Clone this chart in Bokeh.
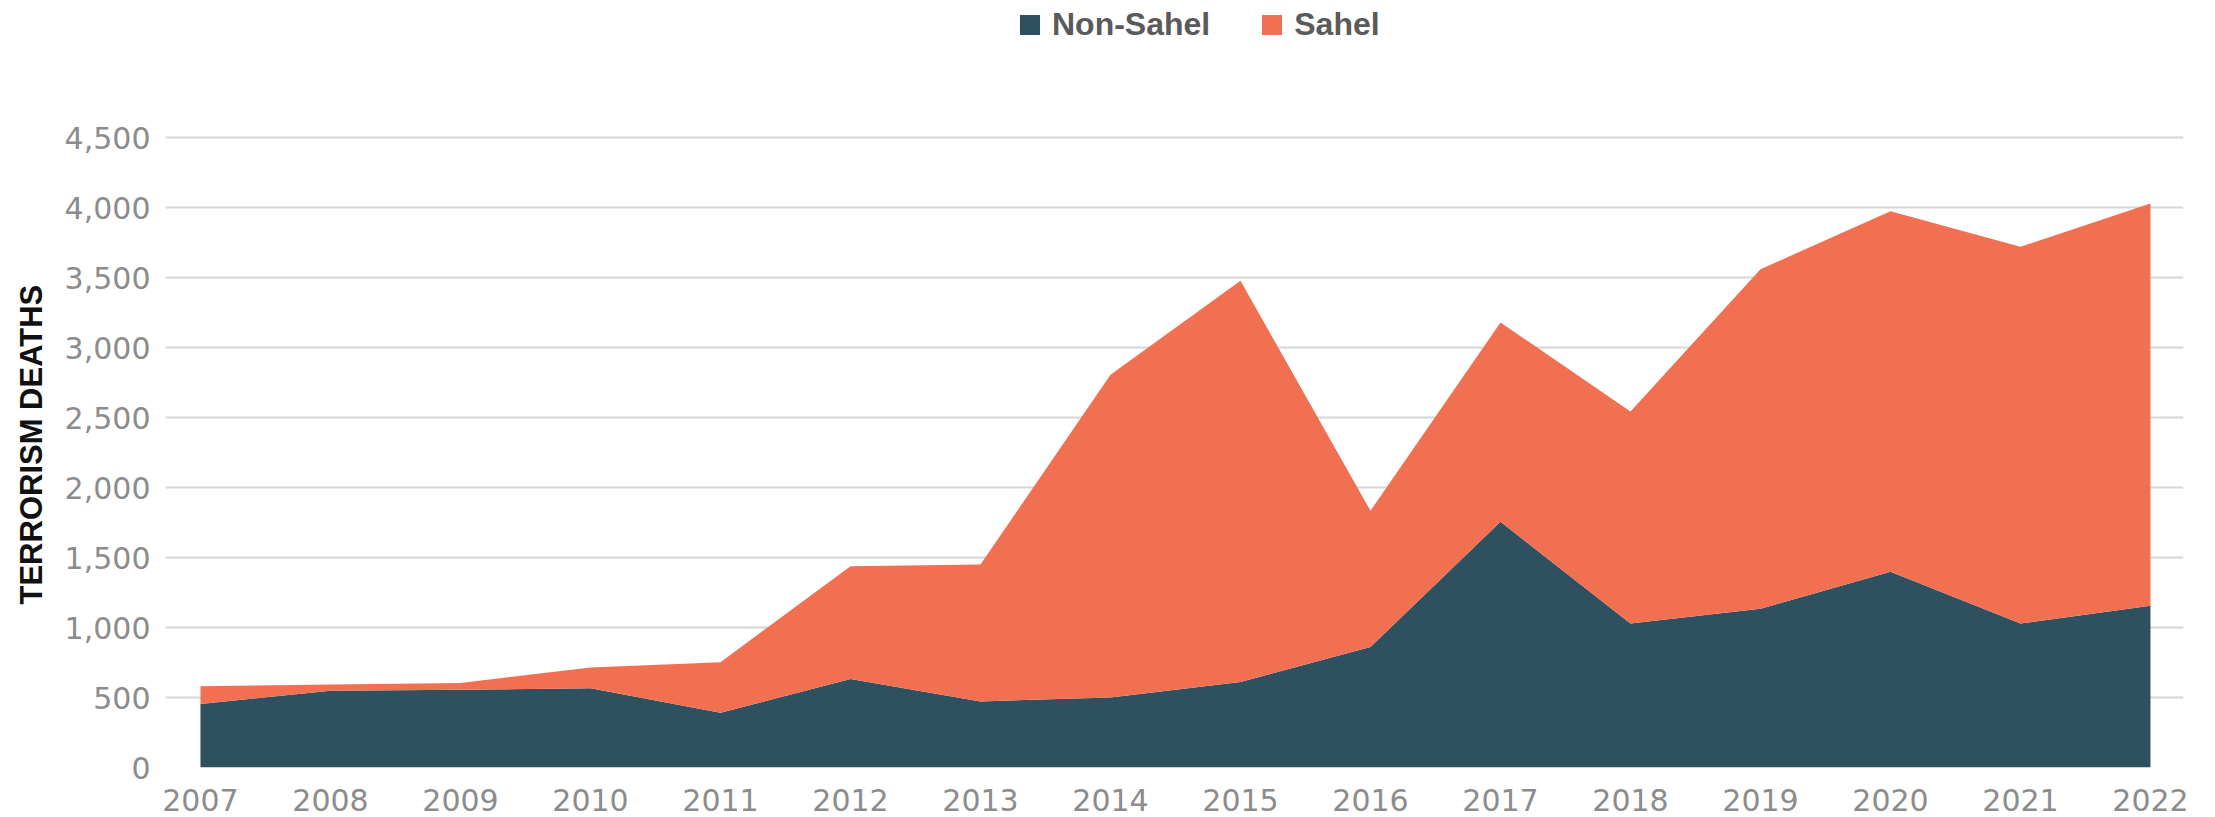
from bokeh.plotting import figure
from bokeh.models import (Range1d, FixedTicker, NumeralTickFormatter, Legend,
                          LegendItem, ColumnDataSource, Title)
from bokeh.embed import file_html
from bokeh.resources import INLINE

# ---- data ----
years = [2007, 2008, 2009, 2010, 2011, 2012, 2013, 2014,
         2015, 2016, 2017, 2018, 2019, 2020, 2021, 2022]
non_sahel = [453, 549, 556, 566, 391, 632, 472, 500,
             611, 861, 1755, 1028, 1134, 1398, 1028, 1155]
sahel = [127, 43, 48, 148, 361, 806, 978, 2305,
         2865, 973, 1424, 1515, 2425, 2576, 2691, 2874]
series_names = ["Non-Sahel", "Sahel"]
series_colors = ["#2e505f", "#f27052"]
y_ticks = [0, 500, 1000, 1500, 2000, 2500, 3000, 3500, 4000, 4500]

source = ColumnDataSource(data={"year": years, "Non-Sahel": non_sahel, "Sahel": sahel})

p = figure(width=2199, height=817, output_backend="svg", toolbar_location=None,
           x_range=Range1d(2006.731, 2022.254), y_range=Range1d(0, 5478.6),
           min_border_left=165, min_border_right=16, min_border_top=0,
           min_border_bottom=50)
p.outline_line_color = None
p.background_fill_color = "white"
p.border_fill_color = "white"

renderers = p.varea_stack(stackers=series_names, x="year", color=series_colors,
                          source=source)

# axes
p.xaxis.ticker = FixedTicker(ticks=years)
p.yaxis.ticker = FixedTicker(ticks=y_ticks)
p.yaxis.formatter = NumeralTickFormatter(format="0,0")
for ax in (p.xaxis[0], p.yaxis[0]):
    ax.axis_line_color = None
    ax.major_tick_line_color = None
    ax.minor_tick_line_color = None
    ax.major_tick_out = 0
    ax.major_tick_in = 0
    ax.major_label_text_font = "DejaVu Sans"
    ax.major_label_text_font_size = "30px"
    ax.major_label_text_color = "#8c8c8c"
p.xaxis.major_label_standoff = 21
p.yaxis.major_label_standoff = 15

ylab = Title(text="TERRORISM DEATHS", align="left", offset=163,
             vertical_align="top", standoff=22,
             text_font="Liberation Sans", text_font_size="31px",
             text_font_style="bold", text_color="#111111")
p.add_layout(ylab, "left")

p.xgrid.grid_line_color = None
p.ygrid.grid_line_color = "#d6d6d6"
p.ygrid.grid_line_width = 2

legend = Legend(items=[LegendItem(label=n, renderers=[r]) for n, r in zip(series_names, renderers)],
                orientation="horizontal", location=(852, 724),
                glyph_width=25, glyph_height=25, label_standoff=10, spacing=49,
                padding=0, margin=0, border_line_color=None,
                background_fill_alpha=0,
                label_text_font="Liberation Sans", label_text_font_size="32px",
                label_text_font_style="bold", label_text_color="#5a5a5a")
p.add_layout(legend, "center")

open("out.html", "w").write(file_html(p, INLINE))
